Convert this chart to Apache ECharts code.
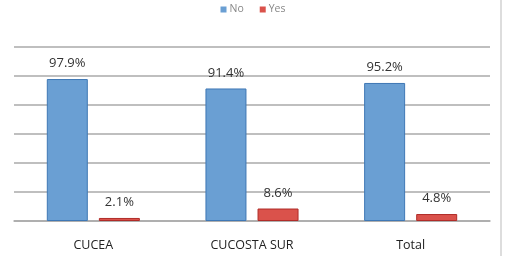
<!DOCTYPE html>
<html>
<head>
<meta charset="utf-8">
<script src="https://cdn.jsdelivr.net/npm/echarts@6/dist/echarts.min.js"></script>
<style>html,body{margin:0;padding:0;background:#fff;}#c{width:506px;height:256px;}</style>
</head>
<body>
<div id="c"></div>
<script>
var categories = ['CUCEA', 'CUCOSTA SUR', 'Total'];
var seriesNames = ['No', 'Yes'];
var noValues = [97.9, 91.4, 95.2];
var yesValues = [2.1, 8.6, 4.8];

var chart = echarts.init(document.getElementById('c'), null, {renderer: 'canvas'});
var labelCfg = {
  show: true, position: 'top', distance: 9,
  formatter: function (p) { return p.value.toFixed(1) + '%'; },
  fontFamily: 'Open Sans', fontSize: 13, color: '#333'
};
chart.setOption({
  animation: false,
  legend: {
    top: -1, left: 'center',
    icon: 'rect',
    itemWidth: 6, itemHeight: 6, itemGap: 16,
    itemStyle: {borderWidth: 0},
    textStyle: {fontFamily: 'Open Sans', fontSize: 10.5, color: '#888', padding: [0, 0, 0, -2]},
    data: seriesNames
  },
  grid: {left: 14, right: 16, top: 47, bottom: 35, containLabel: false},
  xAxis: {
    type: 'category', data: categories,
    axisLine: {show: true, lineStyle: {color: '#aaa', width: 1.5}},
    axisTick: {show: false},
    axisLabel: {fontFamily: 'Open Sans', fontSize: 12.5, color: '#222', margin: 18}
  },
  yAxis: {
    type: 'value', min: 0, max: 120, interval: 20,
    axisLabel: {show: false},
    axisLine: {show: false}, axisTick: {show: false},
    splitLine: {lineStyle: {color: '#aaa', width: 1.5}}
  },
  series: [
    {name: seriesNames[0], type: 'bar', data: noValues, barWidth: 41, barGap: '27%',
     itemStyle: {color: '#6a9fd3', borderColor: '#3f78b5', borderWidth: 1},
     label: labelCfg},
    {name: seriesNames[1], type: 'bar', data: yesValues, barWidth: 41,
     itemStyle: {color: '#da524b', borderColor: '#b02c28', borderWidth: 1},
     label: labelCfg}
  ],
  graphic: [{
    type: 'line', shape: {x1: 501, y1: 0, x2: 501, y2: 256},
    style: {stroke: '#bbb', lineWidth: 1}
  }]
});
</script>
</body>
</html>
